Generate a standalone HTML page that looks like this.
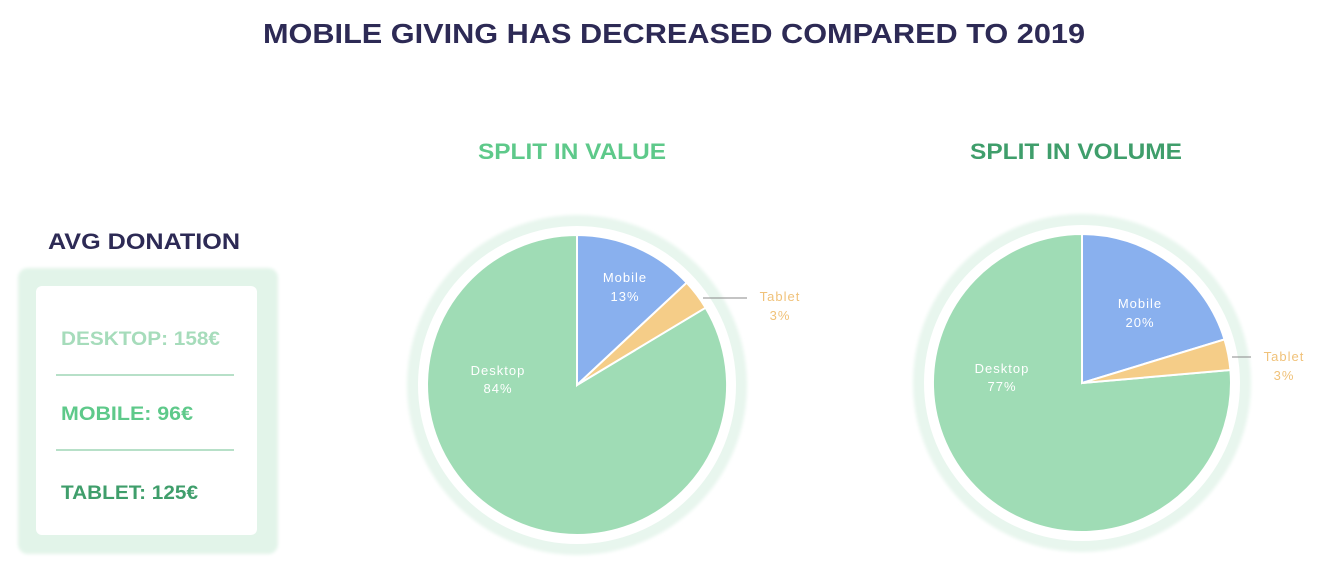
<!DOCTYPE html>
<html><head><meta charset="utf-8"><style>
html,body{margin:0;padding:0;background:#fff;}
svg{display:block;}
text{font-family:"Liberation Sans",sans-serif;}
</style></head><body>
<svg width="1334" height="584" viewBox="0 0 1334 584" xmlns="http://www.w3.org/2000/svg">
<defs><filter id="b" x="-20%" y="-20%" width="140%" height="140%"><feGaussianBlur stdDeviation="1.5"/></filter></defs>
<text x="263" y="43" font-size="28" font-weight="bold" fill="#2d2a55" textLength="822" lengthAdjust="spacingAndGlyphs">MOBILE GIVING HAS DECREASED COMPARED TO 2019</text>
<text x="478" y="159" font-size="22" font-weight="bold" fill="#5ec98a" textLength="188" lengthAdjust="spacingAndGlyphs">SPLIT IN VALUE</text>
<text x="970" y="159" font-size="22" font-weight="bold" fill="#3f9e6b" textLength="212" lengthAdjust="spacingAndGlyphs">SPLIT IN VOLUME</text>
<text x="48" y="249" font-size="22" font-weight="bold" fill="#2d2a55" textLength="192" lengthAdjust="spacingAndGlyphs">AVG DONATION</text>
<rect x="18" y="268" width="260" height="286" rx="10" fill="#e2f4e9" filter="url(#b)"/>
<rect x="36" y="286" width="221" height="249" rx="6" fill="#fff"/>
<text x="61" y="345" font-size="19" font-weight="bold" fill="#a6dcbb" textLength="159" lengthAdjust="spacingAndGlyphs">DESKTOP: 158€</text>
<line x1="56" y1="375" x2="234" y2="375" stroke="#9fd5b6" stroke-width="1.5"/>
<text x="61" y="420" font-size="19" font-weight="bold" fill="#5ec98a" textLength="132" lengthAdjust="spacingAndGlyphs">MOBILE: 96€</text>
<line x1="56" y1="450" x2="234" y2="450" stroke="#9fd5b6" stroke-width="1.5"/>
<text x="61" y="499" font-size="19" font-weight="bold" fill="#3f9e6b" textLength="137" lengthAdjust="spacingAndGlyphs">TABLET: 125€</text>

<circle cx="577" cy="385" r="170" fill="#e8f6ee" filter="url(#b)"/>
<circle cx="577" cy="385" r="159" fill="#fff"/>
<path d="M577 385 L705.6 307.7 A150 150 0 1 1 577 235 Z" fill="#9fdcb5" stroke="#fff" stroke-width="2"/>
<path d="M577 385 L577 235 A150 150 0 0 1 686.7 282.7 Z" fill="#89b0ee" stroke="#fff" stroke-width="2"/>
<path d="M577 385 L686.7 282.7 A150 150 0 0 1 705.6 307.7 Z" fill="#f5cd88" stroke="#fff" stroke-width="2"/>
<line x1="703" y1="298" x2="747" y2="298" stroke="#888" stroke-width="1"/>

<circle cx="1082" cy="383" r="169" fill="#e8f6ee" filter="url(#b)"/>
<circle cx="1082" cy="383" r="158" fill="#fff"/>
<path d="M1082 383 L1230.4 370 A149 149 0 1 1 1082 234 Z" fill="#9fdcb5" stroke="#fff" stroke-width="2"/>
<path d="M1082 383 L1082 234 A149 149 0 0 1 1224.5 339.4 Z" fill="#89b0ee" stroke="#fff" stroke-width="2"/>
<path d="M1082 383 L1224.5 339.4 A149 149 0 0 1 1230.4 370 Z" fill="#f5cd88" stroke="#fff" stroke-width="2"/>
<line x1="1232" y1="357" x2="1251" y2="357" stroke="#888" stroke-width="1"/>

<g font-size="13" fill="#fff" text-anchor="middle" letter-spacing="1">
<text x="625" y="282">Mobile</text><text x="625" y="301">13%</text>
<text x="498" y="375">Desktop</text><text x="498" y="393">84%</text>
<text x="1140" y="308">Mobile</text><text x="1140" y="327">20%</text>
<text x="1002" y="373">Desktop</text><text x="1002" y="391">77%</text>
</g>
<g font-size="13" fill="#f0c27a" text-anchor="middle" letter-spacing="1">
<text x="780" y="301">Tablet</text><text x="780" y="320">3%</text>
<text x="1284" y="361">Tablet</text><text x="1284" y="380">3%</text>
</g>
</svg>
</body></html>
